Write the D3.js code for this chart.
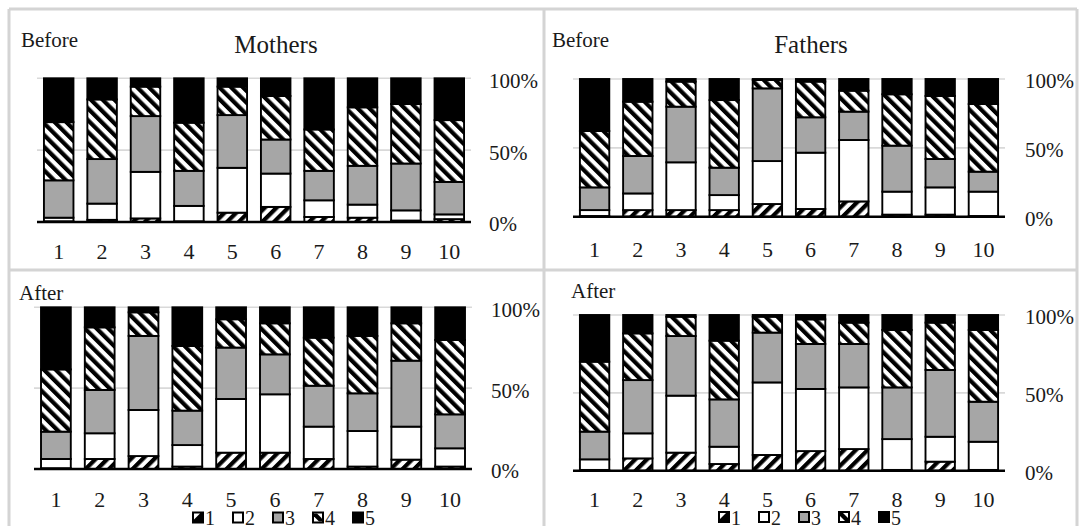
<!DOCTYPE html>
<html><head><meta charset="utf-8">
<script src="https://cdn.jsdelivr.net/npm/d3@7/dist/d3.min.js"></script>
<style>body{margin:0;background:#fff}svg{display:block}</style>
</head><body><svg id="chart" width="1080" height="526"></svg>
<script>
// ---- data ----
const categories = ["1","2","3","4","5","6","7","8","9","10"];
const levels = ["1","2","3","4","5"];
const tickValues = [0, 50, 100];
const tickLabels = ["0%", "50%", "100%"];
// each row: share (%) of levels 1..5 for one category
const mothersBefore = [
  [0.5, 2.5, 26, 40.5, 30.5],
  [1.5, 11.3, 31, 41.5, 14.7],
  [2.5, 32.4, 38.8, 20.5, 5.8],
  [0.5, 10.7, 24.4, 33.5, 30.9],
  [6.5, 31.2, 36.7, 19.8, 5.8],
  [10.5, 23.2, 23.7, 30.3, 12.3],
  [3.5, 11.6, 20.5, 28.8, 35.6],
  [3, 9.1, 27, 40.7, 20.2],
  [1, 7.1, 32.6, 41.4, 17.9],
  [2, 3.3, 22.6, 43, 29.1]
];
const fathersBefore = [
  [0.5, 4.3, 16.5, 40.9, 37.8],
  [4.8, 12.1, 27.2, 39.4, 16.5],
  [4.8, 34.7, 40.4, 18.2, 1.9],
  [4.8, 10.9, 19.9, 49.1, 15.3],
  [9.2, 31.2, 52.8, 6.1, 0.7],
  [5.6, 40.9, 25.7, 25.9, 1.9],
  [11.1, 44.6, 20.6, 15.2, 8.5],
  [1.5, 16.7, 33.4, 37.3, 11.1],
  [1.5, 19.8, 20.6, 45.8, 12.3],
  [0.5, 17.7, 14.5, 49.1, 18.2]
];
const mothersAfter = [
  [0.5, 5.7, 16.9, 38.5, 38.4],
  [6.2, 15.9, 26.8, 38.7, 12.4],
  [8, 28.5, 45.8, 14.6, 3.1],
  [1.5, 13.3, 21.3, 40, 23.9],
  [10.1, 33.2, 31.8, 17.5, 7.4],
  [10.1, 36.1, 24.7, 19.2, 9.9],
  [6.2, 20, 25.3, 29.7, 18.8],
  [1.5, 22, 23.3, 35.5, 17.7],
  [5.8, 20.4, 40.8, 23.1, 9.9],
  [1.5, 11.3, 21, 46, 20.2]
];
const fathersAfter = [
  [0.5, 6.8, 17.8, 44.9, 30],
  [7.9, 16.1, 34.2, 30, 11.8],
  [11.6, 36.6, 38.3, 12.4, 1.1],
  [4.3, 11.1, 30.4, 37.7, 16.5],
  [10.1, 46.6, 32, 10.2, 1.1],
  [12.6, 39.9, 28.9, 15.8, 2.8],
  [13.9, 39.6, 27.9, 13.7, 4.9],
  [0.5, 19.8, 33.2, 36.9, 9.6],
  [5.8, 16, 42.9, 30.4, 4.9],
  [0.5, 18.1, 25.7, 46.1, 9.6]
];

// ---- drawing ----
const svg = d3.select("#chart");
const FONT = "'Liberation Serif','Times New Roman',serif";
const TXT = "#1a1a1a";

const defs = svg.append("defs");
function hatch(id, angle) {
  const p = defs.append("pattern").attr("id", id)
    .attr("patternUnits", "userSpaceOnUse").attr("width", 8.3).attr("height", 8.3)
    .attr("patternTransform", `rotate(${angle})`);
  p.append("rect").attr("width", 8.3).attr("height", 8.3).attr("fill", "#fff");
  p.append("rect").attr("x", 0).attr("width", 4.2).attr("height", 8.3).attr("fill", "#000");
}
hatch("hatchF", 45);
hatch("hatchB", -45);
const fills = ["url(#hatchF)", "#ffffff", "#a6a6a6", "url(#hatchB)", "#000000"];

// panel frames
const frame = svg.append("g").attr("stroke", "#d4d4d4").attr("stroke-width", 3).attr("fill", "none");
frame.append("line").attr("x1", 9).attr("x2", 9).attr("y1", 9).attr("y2", 526);
frame.append("line").attr("x1", 544).attr("x2", 544).attr("y1", 9).attr("y2", 526);
frame.append("line").attr("x1", 1077).attr("x2", 1077).attr("y1", 9).attr("y2", 526);
frame.append("line").attr("x1", 9).attr("x2", 1077).attr("y1", 9).attr("y2", 9);
frame.append("line").attr("x1", 9).attr("x2", 1077).attr("y1", 270).attr("y2", 270);

const panels = [
  {data: mothersBefore, corner: "Before", cx: 21, cy: 47, title: "Mothers", tx: 276, ty: 53,
   x0: 37, x1: 471, yT: 78.3, yB: 222, catY: 259, tickX: 489, legend: null},
  {data: fathersBefore, corner: "Before", cx: 552, cy: 47, title: "Fathers", tx: 811, ty: 53,
   x0: 573, x1: 1005, yT: 79, yB: 216.7, catY: 257, tickX: 1025, legend: null},
  {data: mothersAfter, corner: "After", cx: 19, cy: 300, title: null,
   x0: 34, x1: 472, yT: 307.3, yB: 469, catY: 507, tickX: 491, legend: {x: 193, y: 512.5}},
  {data: fathersAfter, corner: "After", cx: 571, cy: 298, title: null,
   x0: 573, x1: 1005, yT: 315, yB: 470.7, catY: 507, tickX: 1025, legend: {x: 719, y: 512}}
];

const stack = d3.stack().keys(d3.range(levels.length)).value((row, k) => row[k]);

// legend icon interiors (drawn over a filled square)
function legendIcon(sel, i) {
  const s = 10;
  const base = i === 0 ? "#000" : i === 3 ? "#fff" : fills[i];
  sel.append("rect").attr("width", s).attr("height", s)
    .attr("fill", base).attr("stroke", "#000").attr("stroke-width", 2);
  if (i === 0) {
    sel.append("path").attr("d", "M1,1 L7,1 L1,7 Z").attr("fill", "#fff");
  } else if (i === 3) {
    sel.append("path").attr("d", "M1,1 L4,1 L9,6 L9,9 L6,9 L1,4 Z").attr("fill", "#000");
  }
}

panels.forEach(p => {
  const g = svg.append("g");
  const x = d3.scaleBand().domain(categories).range([p.x0, p.x1]).paddingInner(0.32).paddingOuter(0.16);
  const y = d3.scaleLinear().domain([0, 100]).range([p.yB, p.yT]);

  // gridlines
  g.append("g").selectAll("line").data(tickValues.filter(v => v > 0)).join("line")
    .attr("x1", p.x0).attr("x2", p.x1).attr("y1", d => y(d)).attr("y2", d => y(d))
    .attr("stroke", "#d9d9d9").attr("stroke-width", 1.6);

  // bars
  const series = stack(p.data);
  g.append("g").selectAll("g").data(series).join("g")
    .attr("fill", (s, i) => fills[i])
    .selectAll("rect").data((s) => s.map((d, j) => ({d, j}))).join("rect")
    .attr("x", o => x(categories[o.j]))
    .attr("width", x.bandwidth())
    .attr("y", o => y(o.d[1]))
    .attr("height", o => Math.max(0, y(o.d[0]) - y(o.d[1])))
    .attr("stroke", "#000").attr("stroke-width", 1.9);

  // baseline axis
  g.append("line").attr("x1", p.x0).attr("x2", p.x1).attr("y1", y(0)).attr("y2", y(0))
    .attr("stroke", "#000").attr("stroke-width", 2.6);

  // category labels
  g.append("g").selectAll("text").data(categories).join("text")
    .attr("x", d => x(d) + x.bandwidth() / 2).attr("y", p.catY)
    .attr("text-anchor", "middle").attr("font-family", FONT).attr("font-size", 22).attr("fill", TXT)
    .text(d => d);

  // right-side percentage labels
  g.append("g").selectAll("text").data(tickValues).join("text")
    .attr("x", p.tickX).attr("y", d => y(d) + 2).attr("dy", "0.35em")
    .attr("font-family", FONT).attr("font-size", 21).attr("fill", TXT)
    .text((d, i) => tickLabels[i]);

  // corner + title
  g.append("text").attr("x", p.cx).attr("y", p.cy).attr("font-family", FONT)
    .attr("font-size", 21).attr("fill", TXT).text(p.corner);
  if (p.title) {
    g.append("text").attr("x", p.tx).attr("y", p.ty).attr("text-anchor", "middle")
      .attr("font-family", FONT).attr("font-size", 25).attr("fill", TXT).text(p.title);
  }

  // legend
  if (p.legend) {
    const item = g.append("g").selectAll("g").data(levels).join("g")
      .attr("transform", (d, i) => `translate(${p.legend.x + i * 40},${p.legend.y})`);
    item.each(function(d, i) { legendIcon(d3.select(this), i); });
    item.append("text").attr("x", 12).attr("y", 12.5).attr("font-family", FONT)
      .attr("font-size", 20).attr("fill", TXT).text(d => d);
  }
});
</script></body></html>
